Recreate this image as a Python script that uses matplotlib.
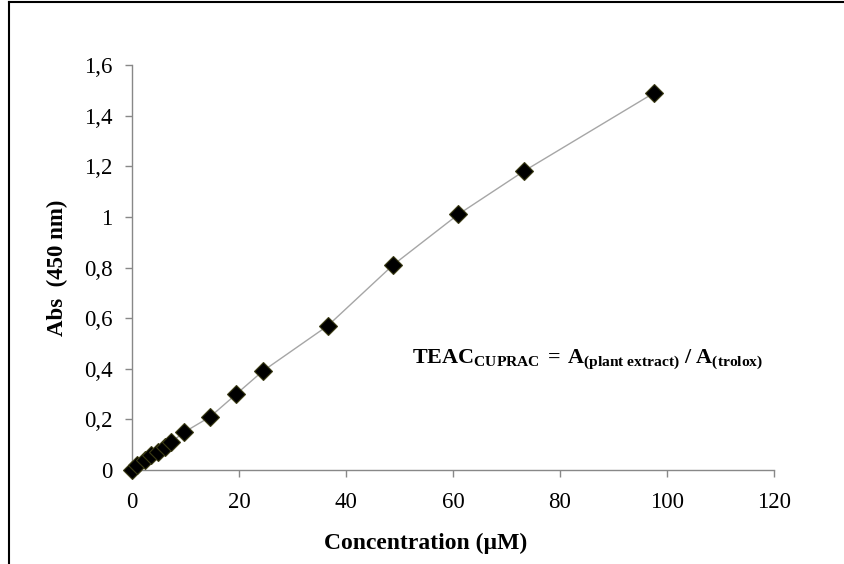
import matplotlib
matplotlib.use("Agg")
import matplotlib.pyplot as plt
from matplotlib.lines import Line2D

conc = [0, 1.0, 2.4, 3.6, 4.9, 6.1, 7.3, 9.8, 14.6, 19.5, 24.4, 36.6, 48.8, 61.0, 73.2, 97.6]
absorb = [0, 0.02, 0.04, 0.06, 0.07, 0.09, 0.11, 0.15, 0.21, 0.30, 0.39, 0.57, 0.81, 1.01, 1.18, 1.49]
xticks = [0, 20, 40, 60, 80, 100, 120]
yticks = [0, 0.2, 0.4, 0.6, 0.8, 1.0, 1.2, 1.4, 1.6]
ylabels = ["0", "0,2", "0,4", "0,6", "0,8", "1", "1,2", "1,4", "1,6"]

plt.rcParams['font.family'] = ['Liberation Serif', 'DejaVu Serif']
plt.rcParams['mathtext.fontset'] = 'custom'
plt.rcParams['mathtext.rm'] = 'Liberation Serif'
plt.rcParams['mathtext.bf'] = 'Liberation Serif:bold'
plt.rcParams['mathtext.it'] = 'Liberation Serif:italic'

fig = plt.figure(figsize=(8.45, 5.64), dpi=100)
ax = fig.add_axes([132/845, 1-470/564, (774-132)/845, (470-65)/564])

ax.plot(conc, absorb, color='#a6a6a6', lw=1.0, zorder=2)
ax.plot(conc, absorb, ls='none', marker='D', ms=9, mfc='black', mec='#3b3b14', mew=0.8,
        zorder=3, clip_on=False)

ax.set_xlim(0, 120)
ax.set_ylim(0, 1.6)
ax.set_xticks(xticks)
ax.set_xticklabels([str(t) for t in xticks])
ax.set_yticks(yticks)
ax.set_yticklabels(ylabels)

for s in ['top', 'right']:
    ax.spines[s].set_visible(False)
for s in ['left', 'bottom']:
    ax.spines[s].set_color('#888888')
    ax.spines[s].set_linewidth(1.0)
ax.tick_params(axis='both', direction='out', length=5, width=1.0, color='#888888',
               labelsize=16.5, labelcolor='black')
ax.tick_params(axis='x', pad=11)
ax.tick_params(axis='y', pad=9)

ax.set_xlabel('Concentration (µM)', fontsize=17, fontweight='bold')
ax.xaxis.set_label_coords((426-132)/642, -(533-470)/405)
ax.set_ylabel('Abs  (450 nm)', fontsize=16.5, fontweight='bold')
ax.yaxis.set_label_coords(-(132-68)/642, 0.5)

ax.text(0.436, 0.273, r'$\mathbf{TEAC_{CUPRAC}\;=\;A_{(plant\ extract)}\ /\ A_{(trolox)}}$',
        transform=ax.transAxes, fontsize=15.9, ha='left', va='center')

# figure frame lines (left and top)
fig.add_artist(Line2D([9/845, 9/845], [0, 1-2/564], transform=fig.transFigure, color='black', lw=1.5))
fig.add_artist(Line2D([9/845, 1], [1-2/564, 1-2/564], transform=fig.transFigure, color='black', lw=1.5))

fig.savefig('out.png', dpi=100)
